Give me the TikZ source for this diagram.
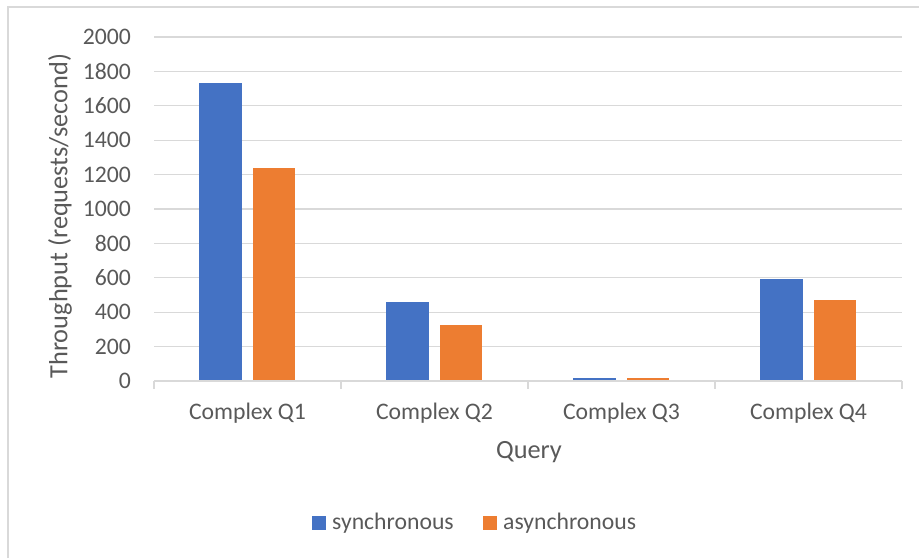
\documentclass[tikz,border=0pt]{standalone}
\usepackage{fontspec}
\setmainfont{Carlito}
\definecolor{serA}{HTML}{4472C4}
\definecolor{serB}{HTML}{ED7D31}
\definecolor{gridgray}{HTML}{D9D9D9}
\definecolor{txtgray}{HTML}{595959}
\tikzset{
  frameline/.style={draw=gridgray, line width=1.3pt},
  gridline/.style={draw=gridgray, line width=1.3pt},
  ticklabel/.style={text=txtgray, font=\fontsize{23.7}{28}\selectfont, inner sep=0pt},
  axtitle/.style={text=txtgray, font=\fontsize{26.3}{31}\selectfont, inner sep=0pt},
  barA/.style={fill=serA},
  barB/.style={fill=serB},
}
\begin{document}
\begin{tikzpicture}[x=1pt, y=-1pt]
\useasboundingbox (0,0) rectangle (919,558);
% chart frame (top and left edges)
\draw[frameline] (8,558) -- (8,7) -- (919,7);

% horizontal gridlines and value labels
\foreach \v in {200,400,...,2000} {
  \draw[gridline] (154,{381-0.172*\v}) -- (902,{381-0.172*\v});
}
\foreach \v [count=\i] in {0,200,400,...,2000} {
  \node[ticklabel, anchor=east] (yl\i) at (131,{381-0.172*\v}) {\v};
}

% bars: synchronous / asynchronous per query
\foreach \a/\b [count=\i from 0] in {1733/1240, 460/326, 20/18, 595/471} {
  \fill[barA] ({154+187*\i+45},381) rectangle ({154+187*\i+88},{381-0.172*\a});
  \fill[barB] ({154+187*\i+99},381) rectangle ({154+187*\i+141},{381-0.172*\b});
}

% category axis with tick marks
\draw[gridline] (154,381) -- (902,381);
\foreach \i in {0,...,4} {
  \draw[gridline] ({154+187*\i},381) -- ({154+187*\i},389);
}

% category labels
\node[ticklabel] (c1) at (247.5,413) {Complex Q1};
\node[ticklabel] (c2) at (434.5,413) {Complex Q2};
\node[ticklabel] (c3) at (621.5,413) {Complex Q3};
\node[ticklabel] (c4) at (808.5,413) {Complex Q4};

% axis titles
\node[axtitle] (xt) at (529,452) {Query};
\node[axtitle, rotate=90] (yt) at (60,216) {Throughput (requests/second)};

% legend
\fill[barA] (312,516) rectangle (326,530);
\node[ticklabel, anchor=west] (lA) at (332,523) {synchronous};
\fill[barB] (483,516) rectangle (497,530);
\node[ticklabel, anchor=west] (lB) at (503,523) {asynchronous};
\end{tikzpicture}
\end{document}
